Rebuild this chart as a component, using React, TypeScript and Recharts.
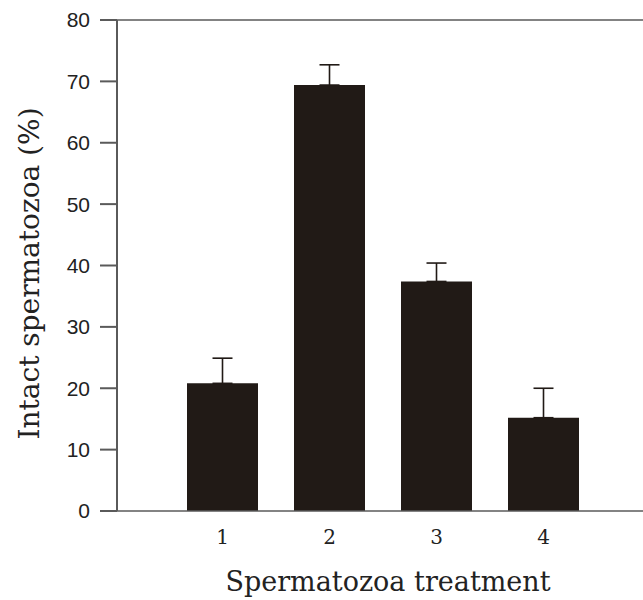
import React from 'react';
import { BarChart, Bar, XAxis, YAxis, ErrorBar, ReferenceLine } from 'recharts';

// treatment groups and mean % intact spermatozoa (+ upper error)
const treatments = ['1', '2', '3', '4'];
const intact = [20.8, 69.4, 37.4, 15.2];
const upperErr = [4.1, 3.3, 3.0, 4.8];
const yTicks = [0, 10, 20, 30, 40, 50, 60, 70, 80];

const data = treatments.map((t, i) => ({
  name: t,
  value: intact[i],
  err: [0, upperErr[i]],
}));

const axisColor = '#5a5a5a';
const barColor = '#211a16';
const serif = '"DejaVu Serif", serif';

export default function App() {
  return (
    <div style={{ position: 'absolute', left: 0, top: 0, background: '#fff' }}>
      <BarChart
        width={643}
        height={600}
        data={data}
        margin={{ top: 20, right: 0, left: 0, bottom: 0 }}
        barSize={71}
      >
        <XAxis
          dataKey="name"
          height={89}
          padding={{ left: 52, right: 46 }}
          stroke={axisColor}
          strokeWidth={1.5}
          tickLine={false}
          tickSize={0}
          tickMargin={19}
          tick={{ fill: '#222', fontSize: 20, fontFamily: serif }}
          label={{
            value: 'Spermatozoa treatment',
            position: 'insideBottom',
            offset: 9,
            dx: 8,
            fill: '#222',
            fontSize: 27,
            fontFamily: serif,
          }}
        />
        <YAxis
          width={117}
          domain={[0, 80]}
          ticks={yTicks}
          interval={0}
          stroke={axisColor}
          strokeWidth={2}
          tickSize={17}
          tickMargin={10}
          tick={{ fill: '#222', fontSize: 21, fontFamily: '"Liberation Sans", Arial, sans-serif' }}
          label={{
            value: 'Intact spermatozoa (%)',
            angle: -90,
            position: 'insideLeft',
            offset: 29,
            dy: 8,
            fill: '#222',
            fontSize: 28,
            fontFamily: serif,
            style: { textAnchor: 'middle' },
          }}
        />
        <ReferenceLine y={80} stroke={axisColor} strokeWidth={1.5} />
        <Bar dataKey="value" fill={barColor} isAnimationActive={false}>
          <ErrorBar dataKey="err" width={10} stroke={barColor} strokeWidth={1.6} direction="y" />
        </Bar>
      </BarChart>
    </div>
  );
}
